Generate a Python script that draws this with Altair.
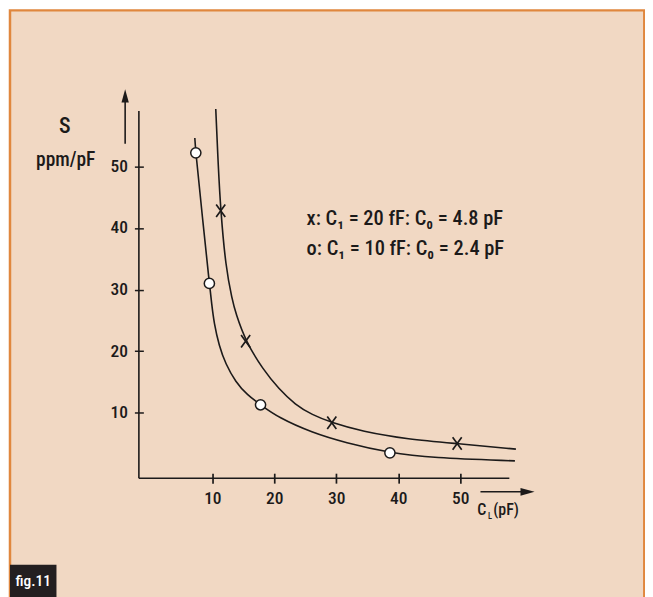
import altair as alt
import pandas as pd

# ---- data ----
x_curve_cl = [10.55, 10.96, 11.35, 12.15, 13.21, 13.76, 15.37, 18.2, 20.71, 23.4, 26.06, 29.28, 34.1, 41.6, 49.52, 59.0]
x_curve_s = [59.3, 49.8, 42.8, 33.7, 28.3, 26.2, 21.6, 17.0, 13.9, 11.3, 9.7, 8.4, 7.0, 5.7, 5.0, 4.1]
o_curve_cl = [7.17, 7.33, 8.39, 9.52, 9.9, 10.27, 11.08, 12.15, 13.76, 15.62, 17.78, 20.71, 26.06, 31.43, 38.66, 45.34, 58.84]
o_curve_s = [54.6, 52.2, 41.8, 31.0, 27.6, 24.6, 20.9, 17.9, 15.0, 12.9, 11.3, 9.2, 6.8, 5.15, 3.5, 2.7, 2.2]
x_marker_cl = [11.35, 15.37, 29.28, 49.52]
x_marker_s = [42.8, 21.6, 8.4, 5.0]
o_marker_cl = [7.33, 9.52, 17.78, 38.66]
o_marker_s = [52.2, 31.0, 11.3, 3.5]
tick_values = [10, 20, 30, 40, 50]
legend_text = "x: C₁ = 20 fF: C₀ = 4.8 pF\no: C₁ = 10 fF: C₀ = 2.4 pF"
y_title = "S"
y_unit = "ppm/pF"
fig_label = "fig.11"

curves = pd.concat([
    pd.DataFrame({"cl": x_curve_cl, "s": x_curve_s, "series": "x"}),
    pd.DataFrame({"cl": o_curve_cl, "s": o_curve_s, "series": "o"}),
])
xm = pd.DataFrame({"cl": x_marker_cl, "s": x_marker_s})
om = pd.DataFrame({"cl": o_marker_cl, "s": o_marker_s})
one = pd.DataFrame({"a": [0]})

FONT = "Roboto Condensed, Roboto, sans-serif"
FW = 500
INK = "#1c1a1a"
PEACH = "#F1D8C3"
ORANGE = "#E0873E"

W, H = 372.2, 369

xs = alt.Scale(domain=[-1.86, 57.94], nice=False, zero=False)
ys = alt.Scale(domain=[-0.61, 59.0], nice=False, zero=False)
x_axis = alt.Axis(values=tick_values, domain=False, grid=False, offset=-5, tickSize=10,
                  tickWidth=1.7, tickColor=INK, labelFont=FONT, labelFontSize=17.5,
                  labelFontWeight=FW, labelColor=INK, labelPadding=6, title=None,
                  zindex=1, labelFlush=False)
y_axis = alt.Axis(values=tick_values, domain=False, grid=False, offset=-4.5, tickSize=9,
                  tickWidth=1.5, tickColor=INK, labelFont=FONT, labelFontSize=17.5,
                  labelFontWeight=FW, labelColor=INK, labelPadding=7, title=None, zindex=1)
X = alt.X("cl:Q", scale=xs, axis=x_axis)
Y = alt.Y("s:Q", scale=ys, axis=y_axis)

frame = alt.Chart(one).mark_rect(fill=PEACH, stroke=ORANGE, strokeWidth=2.5).encode(
    x=alt.value(-129.5), x2=alt.value(507.8), y=alt.value(-101), y2=alt.value(520))
figbox = alt.Chart(one).mark_rect(fill="#231F20").encode(
    x=alt.value(-129.5), x2=alt.value(-82.8), y=alt.value(456), y2=alt.value(490))
figtext = alt.Chart(one).mark_text(text=fig_label, font=FONT, fontSize=15.5, fontWeight=FW,
                                   color="white", align="center", baseline="alphabetic").encode(
    x=alt.value(-106.1), y=alt.value(477))

yline = alt.Chart(one).mark_rule(color=INK, strokeWidth=1.6).encode(
    x=alt.value(0), y=alt.value(0), y2=alt.value(H))
xline = alt.Chart(one).mark_rule(color=INK, strokeWidth=1.6).encode(
    x=alt.value(0), x2=alt.value(W), y=alt.value(H))

yarrow = alt.Chart(one).mark_rule(color=INK, strokeWidth=1.6).encode(
    x=alt.value(-13.8), y=alt.value(33), y2=alt.value(-10))
yhead = alt.Chart(one).mark_point(shape="M0,-1L0.55,1L-0.55,1Z", filled=True, fill=INK,
                                  opacity=1, size=180, strokeWidth=0).encode(
    x=alt.value(-13.8), y=alt.value(-15.1))
xarrow = alt.Chart(one).mark_rule(color=INK, strokeWidth=1.6).encode(
    x=alt.value(343.2), x2=alt.value(385), y=alt.value(382.7))
xhead = alt.Chart(one).mark_point(shape="M1,0L-1,0.55L-1,-0.55Z", filled=True, fill=INK,
                                  opacity=1, size=200, strokeWidth=0).encode(
    x=alt.value(390.5), y=alt.value(382.7))

lines = alt.Chart(curves).mark_line(color=INK, strokeWidth=1.6, interpolate="basis").encode(
    x=X, y=Y, detail="series:N")
omarks = alt.Chart(om).mark_point(shape="circle", filled=True, fill="white", stroke=INK,
                                  strokeWidth=1.5, size=105, opacity=1).encode(x=X, y=Y)
xmarks = alt.Chart(xm).mark_point(shape="M-0.8,-1.1L0.8,1.1M0.8,-1.1L-0.8,1.1", filled=False,
                                  stroke=INK, strokeWidth=1.7, size=130, opacity=1).encode(x=X, y=Y)

t_s = alt.Chart(one).mark_text(text=y_title, font=FONT, fontSize=22, fontWeight=FW, color=INK,
                               align="center", baseline="alphabetic").encode(
    x=alt.value(-74.5), y=alt.value(21.7))
t_unit = alt.Chart(one).mark_text(text=y_unit, font=FONT, fontSize=19.5, fontWeight=FW, color=INK,
                                  align="center", baseline="alphabetic").encode(
    x=alt.value(-73.5), y=alt.value(55))
t_leg = alt.Chart(one).mark_text(text=legend_text, font=FONT, fontSize=20.5, fontWeight=FW,
                                 color=INK, align="left", baseline="alphabetic", lineBreak="\n",
                                 lineHeight=30).encode(
    x=alt.value(168.5), y=alt.value(115))
t_c = alt.Chart(one).mark_text(text="C", font=FONT, fontSize=16, fontWeight=FW, color=INK,
                               align="left", baseline="alphabetic").encode(
    x=alt.value(340), y=alt.value(405.5))
t_l = alt.Chart(one).mark_text(text="L", font=FONT, fontSize=8.5, fontWeight=FW, color=INK,
                               align="left", baseline="alphabetic").encode(
    x=alt.value(350.8), y=alt.value(410))
t_pf = alt.Chart(one).mark_text(text="(pF)", font=FONT, fontSize=16, fontWeight=FW, color=INK,
                                align="left", baseline="alphabetic").encode(
    x=alt.value(356), y=alt.value(405.5))

chart = alt.layer(
    frame, figbox, figtext, yline, xline, yarrow, yhead, xarrow, xhead,
    lines, omarks, xmarks, t_s, t_unit, t_leg, t_c, t_l, t_pf
).properties(
    width=W, height=H,
    autosize=alt.AutoSizeParams(type="none"),
    padding={"left": 131.5, "top": 102, "right": 136.3, "bottom": 118},
    background="white",
).configure_view(strokeWidth=0)

chart.save("out.html", embed_options={"renderer": "svg", "actions": False})
